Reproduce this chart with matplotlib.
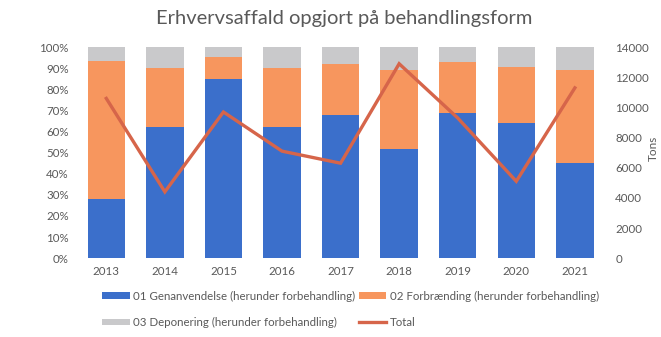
import numpy as np
import matplotlib.pyplot as plt

plt.rcParams['font.family'] = ['Lato', 'DejaVu Sans']

years = ['2013', '2014', '2015', '2016', '2017', '2018', '2019', '2020', '2021']
genanvendelse = [0.28, 0.62, 0.85, 0.62, 0.68, 0.515, 0.69, 0.64, 0.45]
forbraending = [0.655, 0.28, 0.105, 0.28, 0.24, 0.375, 0.24, 0.265, 0.44]
deponering = [1 - g - f for g, f in zip(genanvendelse, forbraending)]
total = [10600, 4400, 9700, 7100, 6300, 12900, 9300, 5100, 11300]

blue = '#3b6fcb'
orange = '#f7965e'
grey = '#c9c9cb'
red = '#d6654a'
txt = '#595959'

fig = plt.figure(figsize=(6.61, 3.37), dpi=100)
ax = fig.add_axes([0.1165, 0.234, 0.7975, 0.626])
x = np.arange(len(years))
w = 0.64

b1 = ax.bar(x, genanvendelse, w, color=blue)
b2 = ax.bar(x, forbraending, w, bottom=genanvendelse, color=orange)
b3 = ax.bar(x, deponering, w, bottom=np.add(genanvendelse, forbraending), color=grey)

ax.set_xlim(-0.5, len(years) - 0.5)
ax.set_ylim(0, 1)
ax.set_yticks(np.arange(0, 1.01, 0.1))
ax.set_yticklabels([f'{int(round(v * 100))}%' for v in np.arange(0, 1.01, 0.1)])
ax.set_xticks(x)
ax.set_xticklabels(years)

ax2 = ax.twinx()
ln, = ax2.plot(x, total, color=red, lw=2.4, solid_joinstyle='miter')
ax2.set_ylim(0, 14000)
ax2.set_yticks(range(0, 14001, 2000))

for a in (ax, ax2):
    for s in a.spines.values():
        s.set_visible(False)
    a.tick_params(length=0, colors=txt, labelsize=8.3)
ax.tick_params(axis='y', pad=6)
ax.tick_params(axis='x', pad=6)
ax2.tick_params(axis='y', pad=8)

fig.text(0.52, 0.945, 'Erhvervsaffald opgjort på behandlingsform',
         ha='center', va='center', fontsize=14.5, color=txt)
fig.text(0.997, 0.56, 'Tons', rotation=90, ha='right', va='center',
         fontsize=8.5, color=txt)

fig.legend([b1, b3, b2, ln],
           ['01 Genanvendelse (herunder forbehandling)',
            '03 Deponering (herunder forbehandling)',
            '02 Forbrænding (herunder forbehandling)',
            'Total'],
           ncol=2, loc='center', bbox_to_anchor=(0.53, 0.082),
           frameon=False, fontsize=8.3, labelcolor=txt,
           handlelength=2.4, handleheight=0.5, handletextpad=0.3,
           columnspacing=0.3, labelspacing=1.3)

fig.savefig('out.png', dpi=100)
